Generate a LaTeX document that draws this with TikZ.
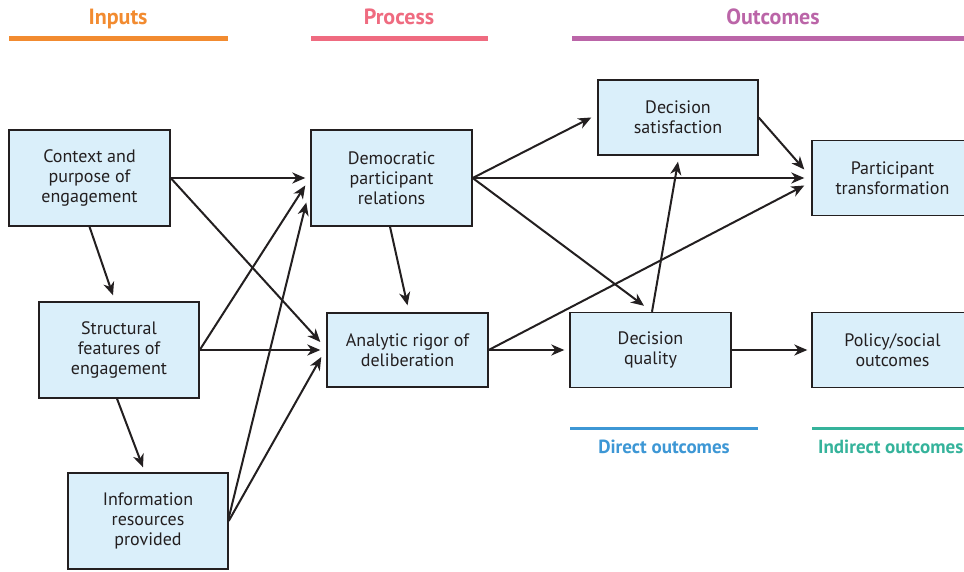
\documentclass[tikz,border=0pt]{standalone}
\usepackage{fontspec}
\setmainfont{PT Sans}
\usetikzlibrary{arrows.meta}
\definecolor{ink}{HTML}{231F20}
\definecolor{boxfill}{HTML}{DAEFFA}
\definecolor{cinputs}{HTML}{F28B30}
\definecolor{cprocess}{HTML}{EF6B80}
\definecolor{coutcomes}{HTML}{BB65A8}
\definecolor{cdirect}{HTML}{3D97D5}
\definecolor{cindirect}{HTML}{35B39B}
\tikzset{
  stagebox/.style={draw=ink, line width=1.4pt, fill=boxfill, rectangle,
    align=center, text=ink, inner sep=0pt,
    font=\fontsize{18}{20}\selectfont},
  flow/.style={draw=ink, line width=2pt,
    -{Stealth[length=13pt,width=11pt,inset=4pt]}},
  headtext/.style={font=\bfseries\fontsize{22}{24}\selectfont, inner sep=0pt, anchor=base},
  subtext/.style={font=\bfseries\fontsize{19}{22}\selectfont, inner sep=0pt, anchor=base},
  headrule/.style={line width=5pt},
  subrule/.style={line width=3pt},
}
\begin{document}
\begin{tikzpicture}[x=1pt,y=-1pt]
  \useasboundingbox (0,0) rectangle (964,572);
  \clip (0,0) rectangle (964,572);
  \fill[white] (0,0) rectangle (964,572);

  % column headings
  \node[headtext, text=cinputs] (hin) at (118,24.5) {Inputs};
  \draw[headrule, cinputs] (9,38.5) -- (228,38.5);
  \node[headtext, text=cprocess] (hpr) at (399,24.5) {Process};
  \draw[headrule, cprocess] (311,38.5) -- (488,38.5);
  \node[headtext, text=coutcomes] (hout) at (773,24.5) {Outcomes};
  \draw[headrule, coutcomes] (572,38.5) -- (964,38.5);

  % boxes
  \node[stagebox, minimum width=161pt, minimum height=96pt] (ctx) at (89.5,178)
    {Context and\\purpose of\\engagement};
  \node[stagebox, minimum width=160pt, minimum height=96pt] (str) at (119,350)
    {Structural\\features of\\engagement};
  \node[stagebox, minimum width=160pt, minimum height=96pt] (inf) at (148,521)
    {Information\\resources\\provided};
  \node[stagebox, minimum width=161pt, minimum height=96pt] (dem) at (391.5,178)
    {Democratic\\participant\\relations};
  \node[stagebox, minimum width=161pt, minimum height=74pt] (ana) at (407.5,350)
    {Analytic rigor of\\deliberation};
  \node[stagebox, minimum width=160pt, minimum height=75pt] (sat) at (678,117.5)
    {Decision\\satisfaction};
  \node[stagebox, minimum width=161pt, minimum height=75pt] (dq) at (650.5,350)
    {Decision\\quality};
  \node[stagebox, minimum width=161pt, minimum height=75pt] (par) at (892.5,178)
    {Participant\\transformation};
  \node[stagebox, minimum width=161pt, minimum height=75pt] (pol) at (892.5,350)
    {Policy/social\\outcomes};

  % outcome groups
  \draw[subrule, cdirect] (570,428) -- (758,428);
  \node[subtext, text=cdirect] (ldir) at (664,453) {Direct outcomes};
  \draw[subrule, cindirect] (812,428) -- (964,428);
  \node[subtext, text=cindirect, anchor=base west] (lind) at (818,453) {Indirect outcomes};

  % inputs
  \draw[flow] (ctx.south) -- ([xshift=-6pt,yshift=6pt]str.north);
  \draw[flow] ([xshift=-2pt]str.south) -- ([xshift=-5pt,yshift=5pt]inf.north);
  \draw[flow] (ctx.east) -- ([xshift=-5pt]dem.west);
  \draw[flow] (ctx.east) -- ([xshift=-6pt,yshift=8pt]ana.west);
  \draw[flow] (str.east) -- ([xshift=-5pt,yshift=-7.5pt]dem.west);
  \draw[flow] (str.east) -- ([xshift=-6pt]ana.west);
  \draw[flow] ([yshift=3pt]inf.east) -- ([xshift=-4pt,yshift=-24.5pt]dem.west);
  \draw[flow] (inf.east) -- ([xshift=-5pt,yshift=-7pt]ana.west);

  % process
  \draw[flow] ([xshift=-1.5pt]dem.south) -- ([yshift=7pt]ana.north);
  \draw[flow] (dem.east) -- ([xshift=-6pt]sat.west);
  \draw[flow] (dem.east) -- ([xshift=-7pt]par.west);
  \draw[flow] (dem.east) -- ([xshift=-6.5pt,yshift=6pt]dq.north);
  \draw[flow] (ana.east) -- ([xshift=-7pt,yshift=-7.5pt]par.west);
  \draw[flow] (ana.east) -- ([xshift=-5pt]dq.west);

  % outcomes
  \draw[flow] ([xshift=1.5pt]dq.north) -- ([yshift=-6pt]sat.south);
  \draw[flow] (sat.east) -- ([xshift=-7pt,yshift=8.5pt]par.west);
  \draw[flow] (dq.east) -- ([xshift=-4pt]pol.west);
\end{tikzpicture}
\end{document}
